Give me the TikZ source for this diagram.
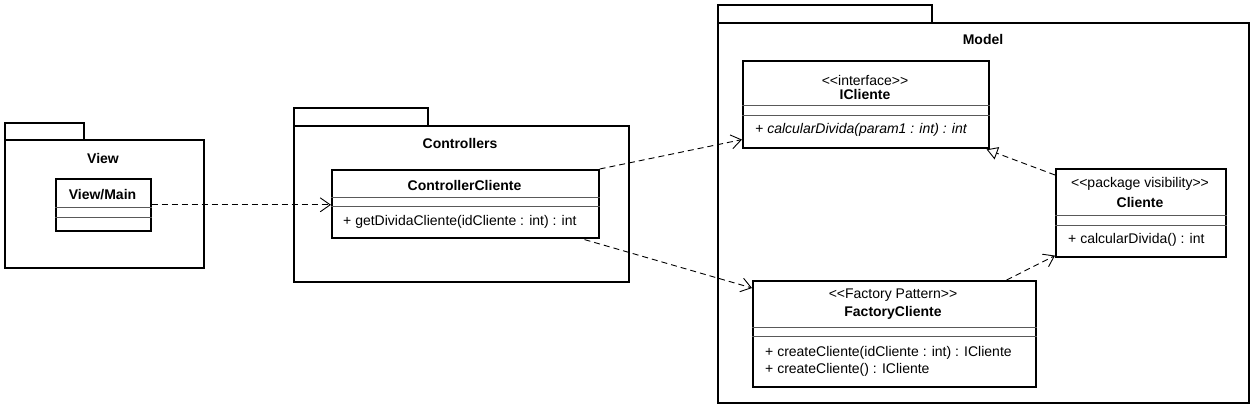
\documentclass[tikz,border=0pt]{standalone}
\usepackage{fontspec}
\setmainfont{Liberation Sans}
\usetikzlibrary{arrows.meta,calc}
\newcommand\stereoL{<\kern0pt<}
\newcommand\stereoR{>\kern0pt>}
\begin{document}
\begin{tikzpicture}[x=1pt,y=-1pt,
  pkg/.style={draw,line width=1.6pt,inner sep=0pt,anchor=north west},
  cls/.style={draw,line width=1.6pt,fill=white,inner sep=0pt,anchor=north west},
  div/.style={draw=black!65,line width=0.9pt},
  txt/.style={font=\fontsize{14}{16}\selectfont,inner sep=0pt},
  btxt/.style={font=\fontsize{14}{16}\selectfont\bfseries,inner sep=0pt},
  itxt/.style={font=\fontsize{14}{16}\selectfont\itshape,inner sep=0pt},
  dep/.style={dash pattern=on 6pt off 4pt,line width=0.9pt,-{Straight Barb[length=10pt,width=14pt]}},
  realz/.style={dash pattern=on 6pt off 4pt,line width=0.9pt,-{Triangle[open,length=11pt,width=13pt,fill=white]}}
]
\useasboundingbox[fill=white] (0,0) rectangle (1255,410);

% ---------- View package
\node[pkg,minimum width=79pt,minimum height=17pt] (viewtab) at (4,122) {};
\node[pkg,minimum width=199pt,minimum height=128pt] (viewpkg) at (4,139) {};
\node[btxt] (viewtitle) at (103,158) {View};
\node[cls,minimum width=95pt,minimum height=52pt] (vm) at (55,178) {};
\draw[div] ($(vm.north west)+(0,29)$) -- ($(vm.north east)+(0,29)$);
\draw[div] ($(vm.north west)+(0,39)$) -- ($(vm.north east)+(0,39)$);
\node[btxt] (vmname) at (102.5,195) {View/Main};

% ---------- Controllers package
\node[pkg,minimum width=134pt,minimum height=18pt] (ctrltab) at (293,107) {};
\node[pkg,minimum width=335pt,minimum height=156pt] (ctrlpkg) at (293,125) {};
\node[btxt] (ctrltitle) at (460,143) {Controllers};
\node[cls,minimum width=267pt,minimum height=68pt] (ctrl) at (331,169) {};
\draw[div] ($(ctrl.north west)+(0,28)$) -- ($(ctrl.north east)+(0,28)$);
\draw[div] ($(ctrl.north west)+(0,37)$) -- ($(ctrl.north east)+(0,37)$);
\node[btxt] (ctrlname) at (464.5,185) {ControllerCliente};
\node[txt,anchor=west] (ctrlm) at (343,222) {+ getDividaCliente(idCliente : int) : int};

% ---------- Model package
\node[pkg,minimum width=214pt,minimum height=18pt] (modtab) at (717,4) {};
\node[pkg,minimum width=531pt,minimum height=380pt] (modpkg) at (717,22) {};
\node[btxt] (modtitle) at (983,39) {Model};

% ICliente
\node[cls,minimum width=246pt,minimum height=87pt] (ic) at (742,60) {};
\draw[div] ($(ic.north west)+(0,45)$) -- ($(ic.north east)+(0,45)$);
\draw[div] ($(ic.north west)+(0,55)$) -- ($(ic.north east)+(0,55)$);
\node[txt] (icst) at (865,80) {\stereoL interface\stereoR};
\node[btxt] (icname) at (865,94) {ICliente};
\node[itxt,anchor=west] (icm) at (755,130) {+ calcularDivida(param1 : int) : int};

% Cliente
\node[cls,minimum width=170pt,minimum height=88pt] (cl) at (1055,168) {};
\draw[div] ($(cl.north west)+(0,47)$) -- ($(cl.north east)+(0,47)$);
\draw[div] ($(cl.north west)+(0,57)$) -- ($(cl.north east)+(0,57)$);
\node[txt] (clst) at (1140,184) {\stereoL package visibility\stereoR};
\node[btxt] (clname) at (1140,202) {Cliente};
\node[txt,anchor=west] (clm) at (1068,240) {+ calcularDivida() : int};

% FactoryCliente
\node[cls,minimum width=283pt,minimum height=106pt] (fac) at (752,280) {};
\draw[div] ($(fac.north west)+(0,47)$) -- ($(fac.north east)+(0,47)$);
\draw[div] ($(fac.north west)+(0,56)$) -- ($(fac.north east)+(0,56)$);
\node[txt] (facst) at (893,295) {\stereoL Factory Pattern\stereoR};
\node[btxt] (facname) at (893,313) {FactoryCliente};
\node[txt,anchor=west] (facm1) at (765,353) {+ createCliente(idCliente : int) : ICliente};
\node[txt,anchor=west] (facm2) at (765,370) {+ createCliente() : ICliente};

% ---------- connectors
\draw[dep] (vm.east) -- (ctrl.west |- vm.east);
\draw[dep] (ctrl.north east) -- ($(ic.south west)+(0,-9)$);
\draw[dep] ($(ctrl.south east)+(-15,1)$) -- ($(fac.north west)+(0,8)$);
\draw[realz] ($(cl.north west)+(0,7)$) -- ($(ic.south east)+(-3,0.8)$);
\draw[dep] ($(fac.north east)+(-30,0)$) -- ($(cl.south west)+(0,-2)$);
\end{tikzpicture}
\end{document}
